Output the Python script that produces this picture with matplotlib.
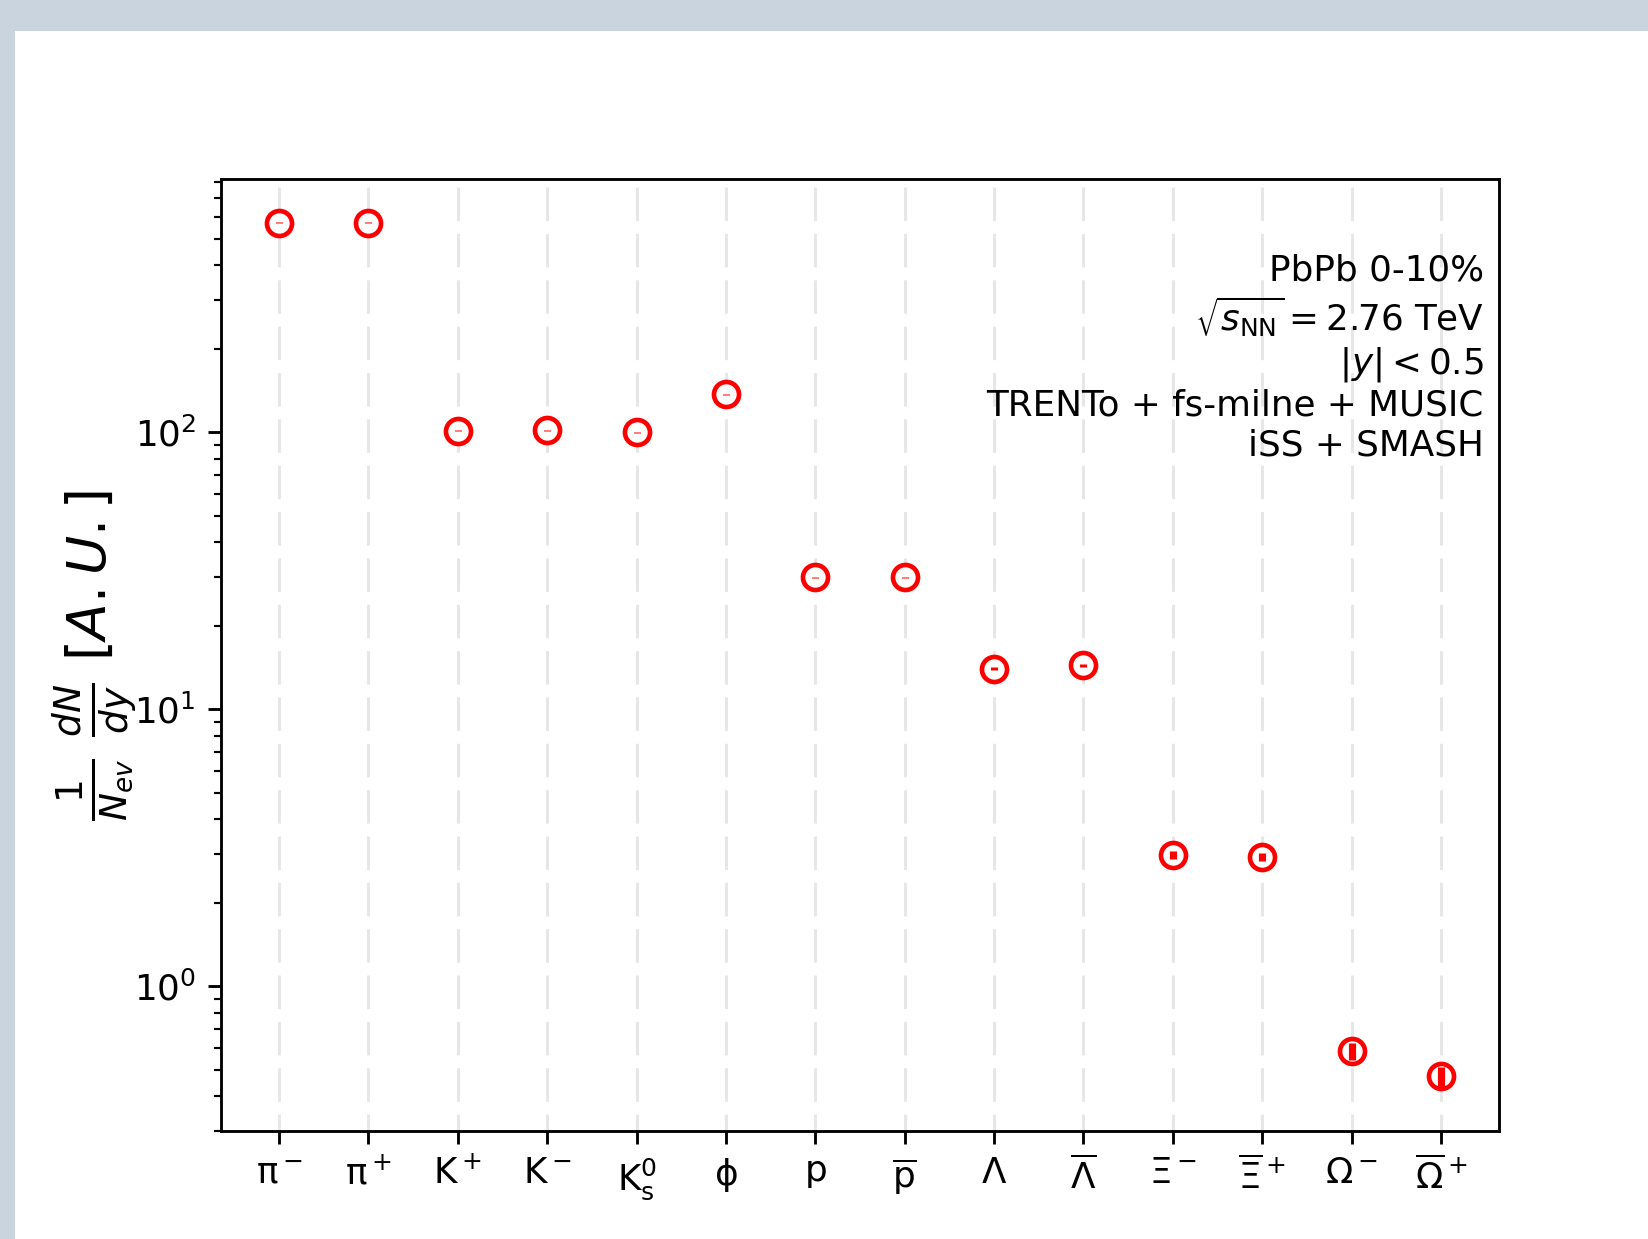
import matplotlib
matplotlib.use("Agg")
import matplotlib.pyplot as plt
from matplotlib.patches import Rectangle

# identified hadron yields at mid-rapidity, 0-10% PbPb
particles = [r"$\mathrm{\pi}^-$", r"$\mathrm{\pi}^+$", r"$\mathrm{K}^+$", r"$\mathrm{K}^-$",
             r"$\mathrm{K}^0_\mathrm{s}$", r"$\mathrm{\phi}$", r"$\mathrm{p}$",
             r"$\overline{\mathrm{p}}$", r"$\Lambda$", r"$\overline{\Lambda}$",
             r"$\Xi^-$", r"$\overline{\Xi}^+$", r"$\Omega^-$", r"$\overline{\Omega}^+$"]
yields = [569, 569, 101, 101.7, 100, 137, 29.9, 29.9, 14.0, 14.4, 2.98, 2.93, 0.582, 0.472]
yield_err = [2.4, 2.4, 0.4, 0.4, 0.4, 0.6, 0.15, 0.15, 0.15, 0.15, 0.10, 0.097, 0.041, 0.039]

info = ("PbPb 0-10%\n"
        r"$\sqrt{s_{\mathrm{NN}}} = 2.76$ TeV" "\n"
        r"$|y| < 0.5$" "\n"
        "TRENTo + fs-milne + MUSIC\n"
        "iSS + SMASH")

DPI = 257.5
fig = plt.figure(figsize=(1648 / DPI, 1239 / DPI), dpi=DPI, facecolor="#c9d4df")
# white page area inside the frame
fig.patches.append(Rectangle((15 / 1648, 0), 1, (1239 - 31) / 1239, transform=fig.transFigure,
                             facecolor="white", edgecolor="none", zorder=-10))

ax = fig.add_axes([221 / 1648, 108 / 1239, 1278 / 1648, 952 / 1239])

x = list(range(len(particles)))
for xi in x:
    ax.axvline(xi, color="0.9", lw=0.8, linestyle=(5.8, (11.7, 4.5)), zorder=1)

ax.errorbar(x, yields, yerr=yield_err, fmt="o", color="red", mfc="white", mec="red",
            ms=7.0, mew=1.3, elinewidth=2.0, capsize=0, barsabove=True, zorder=3)

ax.set_yscale("log")
ax.set_ylim(0.30, 820)
ax.set_xlim(-0.65, 13.65)
ax.set_xticks(x)
ax.set_xticklabels(particles, fontsize=10)
ax.tick_params(axis="y", labelsize=10)

ax.set_ylabel(r"$\frac{1}{N_{ev}}\ \frac{dN}{dy}\ [A.U.]$", fontsize=15)
ax.yaxis.set_label_coords(-0.063, 0.5)

ax.text(0.988, 0.922, info, transform=ax.transAxes, ha="right", va="top",
        fontsize=10, multialignment="right")

fig.savefig("out.png", dpi=DPI, facecolor=fig.get_facecolor())
